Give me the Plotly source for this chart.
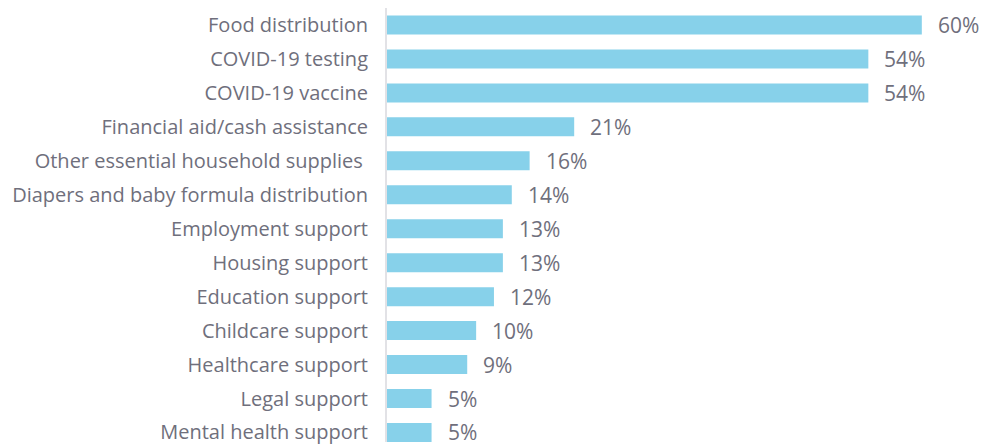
import plotly.graph_objects as go

# Services provided, in display order (top to bottom)
services = [
    "Food distribution",
    "COVID-19 testing",
    "COVID-19 vaccine",
    "Financial aid/cash assistance",
    "Other essential household supplies ",
    "Diapers and baby formula distribution",
    "Employment support",
    "Housing support",
    "Education support",
    "Childcare support",
    "Healthcare support",
    "Legal support",
    "Mental health support",
]
shares = [60, 54, 54, 21, 16, 14, 13, 13, 12, 10, 9, 5, 5]
share_labels = [f"{v}%" for v in shares]

BAR_COLOR = "#87d1ea"
TEXT_COLOR = "#6f6f7c"
FONT = "Open Sans"

fig = go.Figure(
    go.Bar(
        x=shares,
        y=services,
        orientation="h",
        width=0.56,
        marker=dict(color=BAR_COLOR, line=dict(width=0)),
        hoverinfo="skip",
    )
)

# value labels to the right of each bar
for svc, v, lab in zip(services, shares, share_labels):
    fig.add_annotation(
        x=v, y=svc, text=lab, showarrow=False,
        xanchor="left", yanchor="middle", xshift=14,
        font=dict(family=FONT, size=21, color=TEXT_COLOR),
    )

fig.update_layout(
    width=986,
    height=445,
    margin=dict(l=387, r=0, t=8, b=0),
    paper_bgcolor="white",
    plot_bgcolor="white",
    showlegend=False,
    font=dict(family=FONT, size=20, color=TEXT_COLOR),
)
fig.update_xaxes(
    range=[0, 67.2], visible=False, showgrid=False, zeroline=False,
)
fig.update_yaxes(
    categoryorder="array",
    categoryarray=services,
    range=[12.28, -0.5],
    showgrid=False,
    zeroline=False,
    showline=True,
    linecolor="#e2e2e6",
    linewidth=2,
    ticks="",
    ticklabelstandoff=13,
    tickfont=dict(family=FONT, size=20, color=TEXT_COLOR),
)

fig.write_html("out.html")
